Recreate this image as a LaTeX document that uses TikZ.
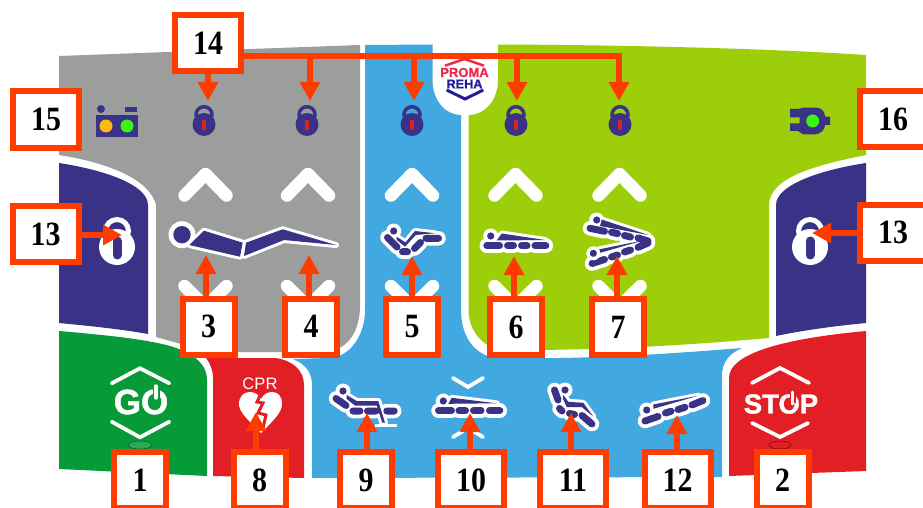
\documentclass[tikz,border=0pt]{standalone}
\usepackage{graphicx}
\usepackage{fontspec}
\setmainfont{Liberation Serif}
\newfontfamily\sansb{Liberation Sans}[BoldFeatures={FakeBold=1.3}]
\usetikzlibrary{arrows.meta}
\definecolor{panelgray}{HTML}{9C9E9D}
\definecolor{panelnavy}{HTML}{3A3287}
\definecolor{panelgreen}{HTML}{069A38}
\definecolor{panelred}{HTML}{E31F26}
\definecolor{panelblue}{HTML}{41A8E0}
\definecolor{panellime}{HTML}{9DCE0A}
\definecolor{callout}{HTML}{FF3C00}
\definecolor{lampyellow}{HTML}{FDB913}
\definecolor{lampgreen}{HTML}{3CF514}
\definecolor{logored}{HTML}{ED2A49}
\definecolor{logonavy}{HTML}{1F1F9B}
\newcommand\nb[1]{\scalebox{.88}[1]{#1}}
\tikzset{
  numbox/.style={draw=callout,line width=6pt,fill=white,inner sep=0pt,outer sep=0pt,
    minimum height=56pt,minimum width=52pt,text=black,font=\fontsize{34}{34}\selectfont\bfseries},
  widebox/.style={numbox,minimum width=66pt},
  conn/.style={draw=callout,line width=6.5pt,-{Triangle[width=19.5pt,length=19pt]}},
  bigchev/.style={draw=white,line width=12.5pt,line cap=round,line join=round},
  thinchev/.style={draw=white,line width=3.8pt,line cap=round,line join=miter},
  halocap/.style={draw=white,line width=14.5pt,line cap=round},
  navycap/.style={draw=panelnavy,line width=7pt,line cap=round},
  halopoly/.style={draw=white,fill=white,line width=6pt,line join=round},
  navypoly/.style={fill=panelnavy},
}
% caps, polygons, head
\newcommand\patienticon[3]{%
  \draw[halocap] #1;
  \draw[halopoly] #2;
  \fill[white] #3 circle (7.5);
  \draw[navycap] #1;
  \fill[navypoly] #2;
  \fill[panelnavy] #3 circle (3.6);
}
\newcommand\closedlock[1]{%
  \begin{scope}[shift={(#1,0)}]
    \draw[panelnavy,line width=3.5pt] (0,114.7) circle (8);
    \fill[panelnavy] (0,124.5) circle (11.5);
    \draw[panelred,line width=4.5pt,line cap=round] (0,122) -- (0,128);
  \end{scope}}
\newcommand\openlock[1]{%
  \begin{scope}[shift={(#1,0)}]
    \draw[white,line width=5pt] (0,231) circle (11.5);
    \fill[white] (0,247) circle (18);
    \draw[panelnavy,line width=9pt,line cap=round] (0,241) -- (0,255);
  \end{scope}}
\begin{document}
\begin{tikzpicture}[x=1pt,y=-1pt]
\useasboundingbox (0,0) rectangle (923,508);
\clip (0,0) rectangle (923,508);
\fill[white] (0,0) rectangle (923,508);
% --- panels ---
\fill[panelgray] (59,56) -- (360,45) -- (360,305) .. controls (360,335) and (345,352) .. (322,352)
  -- (235,352) .. controls (205,352) and (185,345) .. (156,337) -- (156,205)
  .. controls (150,180) and (110,163) .. (59,155) -- cycle;
\fill[panelnavy] (59,163) .. controls (105,170) and (148,185) .. (148,205) -- (148,334)
  .. controls (120,329) and (90,326) .. (59,323) -- cycle;
\fill[panelnavy] (866,163) .. controls (820,170) and (776,185) .. (776,205) -- (776,336)
  .. controls (805,330) and (835,326) .. (866,323) -- cycle;
\fill[panelblue] (365,45) -- (432.5,44.5) -- (432.5,80) .. controls (432.5,100) and (445,115) .. (461,115)
  -- (461,310) .. controls (461,340) and (478,358) .. (500,358)
  -- (560,358) .. controls (620,357) and (680,353) .. (742,348)
  .. controls (730,353) and (722,362) .. (722,375) -- (722,477) -- (312,478) -- (312,385)
  .. controls (312,372) and (305,364) .. (293,359) -- (328,358)
  .. controls (350,358) and (365,335) .. (365,310) -- cycle;
\fill[panellime] (498,44.5) .. controls (620,45) and (760,48) .. (866,55) -- (866,155)
  .. controls (815,165) and (769,178) .. (769,205) -- (769,338)
  .. controls (690,345) and (620,349) .. (540,350) -- (505,350)
  .. controls (485,350) and (468.5,332) .. (468.5,310) -- (468.5,115)
  .. controls (485,115) and (498,100) .. (498,80) -- cycle;
\fill[panelgreen] (59,331) .. controls (105,335) and (145,339) .. (170,346)
  .. controls (190,352) and (207,362) .. (207,380) -- (207,476) -- (59,469) -- cycle;
\fill[panelred] (206,358) -- (275,358) .. controls (292,360) and (304,370) .. (304,385)
  -- (304,478) -- (213,476) -- (213,378) .. controls (213,370) and (210,363) .. (206,358) -- cycle;
\fill[panelred] (729,476) -- (729,378) .. controls (729,352) and (790,338) .. (866,331) -- (866,471) -- cycle;
% --- logo ---
\draw[logored,line width=2.5pt] (445,65.7) -- (464.5,59) -- (484,65.7);
\node[inner sep=0pt,text=logored,font=\sansb\bfseries\fontsize{13}{13}\selectfont] (proma) at (464.5,72.5) {PROMA};
\node[inner sep=0pt,text=logonavy,font=\sansb\bfseries\fontsize{12.7}{13}\selectfont] (reha) at (464.5,84) {REHA};
\draw[logonavy,line width=3pt] (446.7,90) -- (465,99) -- (483.3,90);
% --- status icons ---
\fill[panelnavy] (96,115) rectangle (138,137);
\fill[panelnavy] (101,109) circle (4);
\fill[panelnavy] (125,107) rectangle (137,112);
\fill[lampyellow] (106,126) circle (6.5);
\fill[lampgreen] (127,126) circle (6.5);
\fill[panelnavy] (790,109) -- (798,109) -- (803,107.7) -- (817,107.7) .. controls (822,108) and (825,112) .. (825,116.7)
  -- (830,116.7) -- (830,125) -- (825,125) .. controls (825,130) and (820,134.3) .. (815,134.3)
  -- (803,134.3) -- (798,131) -- (790,131) -- (790,123.3) -- (799.5,123.3) -- (799.5,117.3) -- (790,117.3) -- cycle;
\fill[lampgreen] (812.7,121) circle (6.5);
% --- locks ---
\closedlock{204}\closedlock{307}\closedlock{412}\closedlock{516}\closedlock{620}
\openlock{117}\openlock{810}
% --- big chevrons ---
\foreach \cx in {205.5,308,412,515.5,619.5}{
  \draw[bigchev] (\cx-21,195.5) -- (\cx,174) -- (\cx+21,195.5);
  \draw[bigchev] (\cx-21,286) -- (\cx,307) -- (\cx+21,286);
}
% --- icon 3 and 4 ---
\fill[white] (182,234.7) circle (13.5);
\fill[panelnavy] (182,234.7) circle (8.7);
\draw[halopoly] (204,230.7) -- (242.7,242.7) -- (240,256.7) -- (189.3,245) -- cycle;
\fill[navypoly] (204,230.7) -- (242.7,242.7) -- (240,256.7) -- (189.3,245) -- cycle;
\draw[halopoly] (246,242.7) -- (282.7,229.3) -- (336,245) -- (284,240) -- (244,256) -- cycle;
\fill[navypoly] (246,242.7) -- (282.7,229.3) -- (336,245) -- (284,240) -- (244,256) -- cycle;
% --- icon 5 ---
\patienticon{(387.5,237.5) -- (397,247) (402.5,251.7) -- (407.5,251.7) (414.5,248.5) -- (420.5,242.5) (426,238.3) -- (438.5,238.3)}
  {(396.7,236.7) -- (405.5,242.5) -- (415,231) -- (435,233.3) -- (415.7,235) -- (405,246.7) -- (396.7,240) -- cycle}
  {(393.7,231)}
% --- icon 6 ---
\patienticon{(486.8,245.7) -- (499.5,245.7) (507.5,245.7) -- (513.5,245.7) (521.5,245.7) -- (527,245.7) (535,245.7) -- (545.8,245.7)}
  {(496.7,240.5) -- (501.7,233.5) -- (545,240) -- cycle}
  {(490.7,236)}
% --- icon 7 ---
\patienticon{(590,228.3) -- (604.5,231.3) (611.5,232.2) -- (617.5,233.6) (624.5,235.5) -- (630.5,237) (638,238) -- (648,241)
  (592,263.5) -- (604.5,259.5) (611.5,257) -- (617.5,255) (624.5,252) -- (630.5,250) (638,247.3) -- (648,243)}
  {(601.7,219.5) -- (648.3,235) -- (600,226) -- cycle (597.7,253.5) -- (645,240) -- (598.5,249.5) -- cycle}
  {(596.7,220)}
\fill[white] (593.3,253.3) circle (7);
\fill[panelnavy] (593.3,253.3) circle (3.6);
% --- icon 9 ---
\draw[white,line width=3pt] (375,425) -- (396.7,425);
\patienticon{(336,398.5) -- (346,405.5) (353,411) -- (360,411) (367.5,411) -- (376,411) (386.8,411) -- (394.2,411)}
  {(346.7,395) -- (356.7,401) -- (378.3,401) -- (385,422.7) -- (382.3,422.7) -- (376.7,405.5) -- (355,405.5) -- (346.7,399) -- cycle}
  {(343,391)}
% --- icon 10 ---
\draw[thinchev] (453,378) -- (468,387) -- (483,378);
\draw[thinchev] (453,437) -- (468,428) -- (483,437);
\patienticon{(438.5,410.7) -- (451.5,410.7) (459,410.7) -- (465.5,410.7) (473.5,410.7) -- (481,410.7) (489.5,410.7) -- (499.8,410.7)}
  {(448.3,403.8) -- (451.7,397.8) -- (496.7,403.3) -- cycle}
  {(443.3,401)}
% --- icon 11 ---
\patienticon{(554.5,390) -- (558,400) (559.5,408.5) -- (562,411) (569.5,413.5) -- (574.5,414.5) (582,415.5) -- (592,424)}
  {(563.3,395) -- (568.3,401.8) -- (583.3,402.8) -- (593.3,416.7) -- (581.7,407) -- (566.7,407) -- (562.7,398.3) -- cycle}
  {(565,390)}
% --- icon 12 ---
\patienticon{(645,421) -- (658,416.5) (665.5,413) -- (671,411.3) (678,409.5) -- (685,407.3) (692,405) -- (703,400.5)}
  {(653.3,408.8) -- (698.3,395.7) -- (653.3,404.5) -- cycle}
  {(646.7,410)}
% --- GO ---
\draw[thinchev] (111.7,383.3) -- (140,368.3) -- (169.3,383.3);
\draw[thinchev] (111.7,421.7) -- (140,437.3) -- (169.3,421.7);
\node[inner sep=0pt,text=white,font=\sansb\bfseries\fontsize{35}{35}\selectfont] (go) at (141,402) {GO};
\draw[panelgreen,line width=7pt] (156,382) -- (156,399);
\draw[white,line width=3.5pt,line cap=round] (156,386) -- (156,398);
\draw[black!40!panelgreen,line width=.5pt,fill=panelgreen!85!white] (140,445) ellipse (12 and 4);
% --- CPR ---
\node[inner sep=0pt,text=white,font=\sansb\fontsize{16.6}{17}\selectfont] (cpr) at (260,384) {CPR};
\fill[white] (261,433) .. controls (248,420) and (239,412) .. (239,404) .. controls (239,396) and (244,392) .. (250,392)
  .. controls (255,392) and (259,395) .. (261,399) .. controls (263,395) and (267,392) .. (272,392)
  .. controls (278,392) and (282,396) .. (282,404) .. controls (282,412) and (274,420) .. (261,433) -- cycle;
\draw[panelred,line width=3pt,line join=miter] (262,391) -- (257,402) -- (263,403) -- (258,413) -- (266,415) -- (263,428);
% --- STOP ---
\draw[thinchev] (752,383) -- (780,368) -- (809,383);
\draw[thinchev] (752,423) -- (780,437) -- (808,423);
\node[inner sep=0pt,text=white,font=\sansb\bfseries\fontsize{27.5}{28}\selectfont] (stop) at (781,404) {STOP};
\draw[panelred,line width=6pt] (792.7,389) -- (792.7,403);
\draw[white,line width=3pt,line cap=round] (792.7,392) -- (792.7,404);
\draw[black!60!panelred,line width=.5pt] (780,445) ellipse (11 and 4);
% --- callout boxes ---
\node[widebox] (b14) at (208,43) {\nb{14}};
\node[widebox] (b15) at (46,119.5) {\nb{15}};
\node[widebox] (b13l) at (45.5,234) {\nb{13}};
\node[widebox] (b13r) at (893,232.5) {\nb{13}};
\node[widebox] (b16) at (893,119) {\nb{16}};
\node[numbox] (b3) at (208.5,326.5) {\nb{3}};
\node[numbox] (b4) at (311,326.5) {\nb{4}};
\node[numbox] (b5) at (412,327) {\nb{5}};
\node[numbox] (b6) at (516,327) {\nb{6}};
\node[numbox] (b7) at (618,327) {\nb{7}};
\node[numbox] (b1) at (140,480) {\nb{1}};
\node[numbox] (b8) at (259.5,480) {\nb{8}};
\node[numbox] (b9) at (366,480) {\nb{9}};
\node[widebox] (b10) at (471,480) {\nb{10}};
\node[widebox] (b11) at (573,480) {\nb{11}};
\node[widebox] (b12) at (677.5,480) {\nb{12}};
\node[numbox] (b2) at (782.5,480) {\nb{2}};
% --- arrow targets ---
\coordinate (lk1) at (208,101);
\coordinate (lk2) at (310,101);
\coordinate (lk3) at (414,101);
\coordinate (lk4) at (517,101);
\coordinate (lk5) at (619,101);
\coordinate (trunk) at (300,56);
\coordinate (t3) at (206,255);
\coordinate (t4) at (309,255);
\coordinate (t5) at (412,256);
\coordinate (t6) at (514,256);
\coordinate (t7) at (617,256);
\coordinate (t8) at (256,412);
\coordinate (t9) at (367,413);
\coordinate (t10) at (470,413);
\coordinate (t11) at (571,413);
\coordinate (t12) at (677,415);
\coordinate (t13l) at (122,235);
\coordinate (t13r) at (812,233);
% --- connectors ---
\draw[conn] (lk1 |- b14.south) -- (lk1);
\draw[conn] (b14.east |- trunk) -| (lk5);
\draw[conn] (lk2 |- trunk) -- (lk2);
\draw[conn] (lk3 |- trunk) -- (lk3);
\draw[conn] (lk4 |- trunk) -- (lk4);
\draw[conn] (t3 |- b3.north) -- (t3);
\draw[conn] (t4 |- b4.north) -- (t4);
\draw[conn] (t5 |- b5.north) -- (t5);
\draw[conn] (t6 |- b6.north) -- (t6);
\draw[conn] (t7 |- b7.north) -- (t7);
\draw[conn] (t8 |- b8.north) -- (t8);
\draw[conn] (t9 |- b9.north) -- (t9);
\draw[conn] (t10 |- b10.north) -- (t10);
\draw[conn] (t11 |- b11.north) -- (t11);
\draw[conn] (t12 |- b12.north) -- (t12);
\draw[conn] (b13l.east |- t13l) -- (t13l);
\draw[conn] (b13r.west |- t13r) -- (t13r);
\end{tikzpicture}
\end{document}
